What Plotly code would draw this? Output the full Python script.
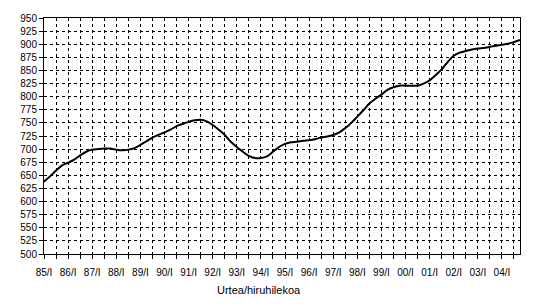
import plotly.graph_objects as go

years = ["85", "86", "87", "88", "89", "90", "91", "92", "93", "94",
         "95", "96", "97", "98", "99", "00", "01", "02", "03", "04"]
quarters = ["I", "II", "III", "IV"]
categories = [f"{y}/{q}" for y in years for q in quarters]

values = [638, 648, 659, 669, 674, 680, 688, 695,
          699, 700, 701, 701, 699, 698, 699, 702,
          708, 715, 722, 727, 732, 737, 744, 748,
          752, 755, 756, 753, 746, 737, 727, 714,
          704, 695, 687, 683, 683, 686, 695, 704,
          710, 713, 714, 716, 717, 719, 722, 724,
          727, 732, 740, 750, 762, 774, 787, 796,
          804, 813, 818, 821, 821, 821, 821, 825,
          831, 841, 852, 866, 878, 884, 887, 890,
          892, 893, 895, 897, 899, 901, 904, 908]

y_ticks = list(range(500, 951, 25))
x_title = "Urtea/hiruhilekoa"

idx = list(range(len(categories)))
tickvals = idx[::2]
ticktext = [categories[i] if i % 4 == 0 else "" for i in tickvals]

fig = go.Figure()
fig.add_trace(go.Scatter(
    x=idx, y=values, mode="lines",
    line=dict(color="black", width=2, shape="spline", smoothing=0.8),
    hoverinfo="skip", showlegend=False,
))

font = dict(family="Liberation Sans, Arial, sans-serif", size=10, color="black")

fig.update_layout(
    width=540, height=307,
    margin=dict(l=44, r=20, t=14, b=53),
    paper_bgcolor="white", plot_bgcolor="white",
    font=font,
    xaxis=dict(
        range=[0, len(categories) - 1],
        tickmode="array", tickvals=tickvals, ticktext=ticktext,
        showgrid=True, gridcolor="black", gridwidth=1, griddash="3px,3px",
        showline=True, linecolor="black", linewidth=1, mirror=True,
        ticks="outside", ticklen=4, tickcolor="black",
        tickangle=0, ticklabelstandoff=5,
        zeroline=False, tickfont=font,
    ),
    yaxis=dict(
        range=[500, 950],
        tickmode="array", tickvals=y_ticks,
        showgrid=True, gridcolor="black", gridwidth=1, griddash="3px,3px",
        showline=True, linecolor="black", linewidth=1, mirror=True,
        ticks="outside", ticklen=4, tickcolor="black",
        zeroline=False, tickfont=font,
    ),
    annotations=[dict(
        text=x_title, xref="paper", yref="paper",
        x=0.452, y=-0.12, xanchor="center", yanchor="top",
        showarrow=False, font=dict(family=font["family"], size=11, color="black"),
    )],
)

fig.write_html("out.html")
